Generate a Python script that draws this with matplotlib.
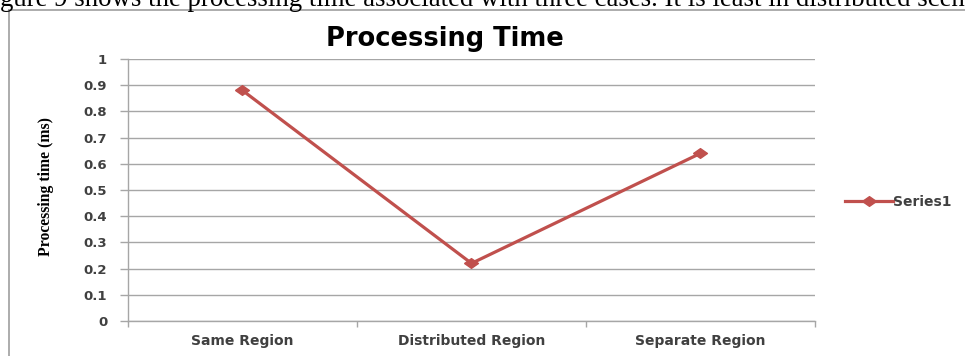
import matplotlib

matplotlib.use("Agg")
import matplotlib.pyplot as plt
from matplotlib.lines import Line2D
import numpy as np

# Processing time for each deployment case (ms)
cases = ["Same Region", "Distributed Region", "Separate Region"]
processing_ms = [0.88, 0.22, 0.64]
y_ticks = [0, 0.1, 0.2, 0.3, 0.4, 0.5, 0.6, 0.7, 0.8, 0.9, 1]
y_tick_labels = ["0", "0.1", "0.2", "0.3", "0.4", "0.5", "0.6", "0.7", "0.8", "0.9", "1"]

W, H = 965, 356
fig = plt.figure(figsize=(W / 100, H / 100), dpi=100)

# running text of the page, cut off at the top edge
fig.text(0.0, 1 - 6 / H, "gure 9 shows the processing time associated with three cases. "
         "It is least in distributed scen",
         family="Liberation Serif", fontsize=19.3, color="black", ha="left", va="baseline")

# chart frame (left and top edges only are in view)
fig.add_artist(Line2D([9 / W, 9 / W], [0, 1 - 10 / H], color="#a6a6a6", lw=1.3,
                      transform=fig.transFigure))
fig.add_artist(Line2D([9 / W, 1], [1 - 10 / H, 1 - 10 / H], color="#a6a6a6", lw=1.3,
                      transform=fig.transFigure))

ax = fig.add_axes([128 / W, 1 - 321 / H, (815 - 128) / W, (321 - 59) / H])

# a slightly flattened diamond, like the spreadsheet marker
diamond = [(-1.0, 0.0), (0.0, 0.7), (1.0, 0.0), (0.0, -0.7), (-1.0, 0.0)]

x = np.arange(len(cases))
ax.plot(x, processing_ms, color="#c0504d", lw=2.3, marker=diamond, markersize=10,
        label="Series1", solid_joinstyle="miter")

ax.set_xlim(-0.5, len(cases) - 0.5)
ax.set_ylim(0, 1)
ax.set_yticks(y_ticks)
ax.set_yticklabels(y_tick_labels)
ax.set_xticks(x)
ax.set_xticklabels(cases)
ax.set_xticks(np.arange(len(cases) + 1) - 0.5, minor=True)

ax.grid(axis="y", color="#a6a6a6", lw=1.0)
ax.set_axisbelow(True)
for side in ("top", "right"):
    ax.spines[side].set_visible(False)
for side in ("left", "bottom"):
    ax.spines[side].set_color("#a6a6a6")
    ax.spines[side].set_linewidth(1.0)

ax.tick_params(axis="y", direction="out", length=5.5, width=1.0, color="#a6a6a6",
               labelsize=9.5, labelcolor="#404040", pad=9.5)
ax.tick_params(axis="x", which="major", length=0, labelsize=10, labelcolor="#404040", pad=9)
ax.tick_params(axis="x", which="minor", direction="out", length=4, width=1.0, color="#a6a6a6")
for lbl in ax.get_yticklabels() + ax.get_xticklabels():
    lbl.set_fontweight("bold")
    lbl.set_family("DejaVu Sans")

fig.text(445 / W, 1 - 39 / H, "Processing Time", family="DejaVu Sans", fontweight="bold",
         fontsize=18.5, ha="center", va="center", color="black")

fig.text(46 / W, 1 - 187 / H, "Processing time (ms)", family="Liberation Serif",
         fontweight="bold", fontsize=11.3, rotation=90, ha="center", va="center",
         color="black")

ax.legend(loc="center left", bbox_to_anchor=(1.03, 0.455), frameon=False,
          handlelength=3.4, handletextpad=0.0, borderpad=0.2,
          prop={"family": "DejaVu Sans", "weight": "bold", "size": 10})
for txt in ax.get_legend().get_texts():
    txt.set_color("#404040")

fig.savefig("out.png", dpi=100)
